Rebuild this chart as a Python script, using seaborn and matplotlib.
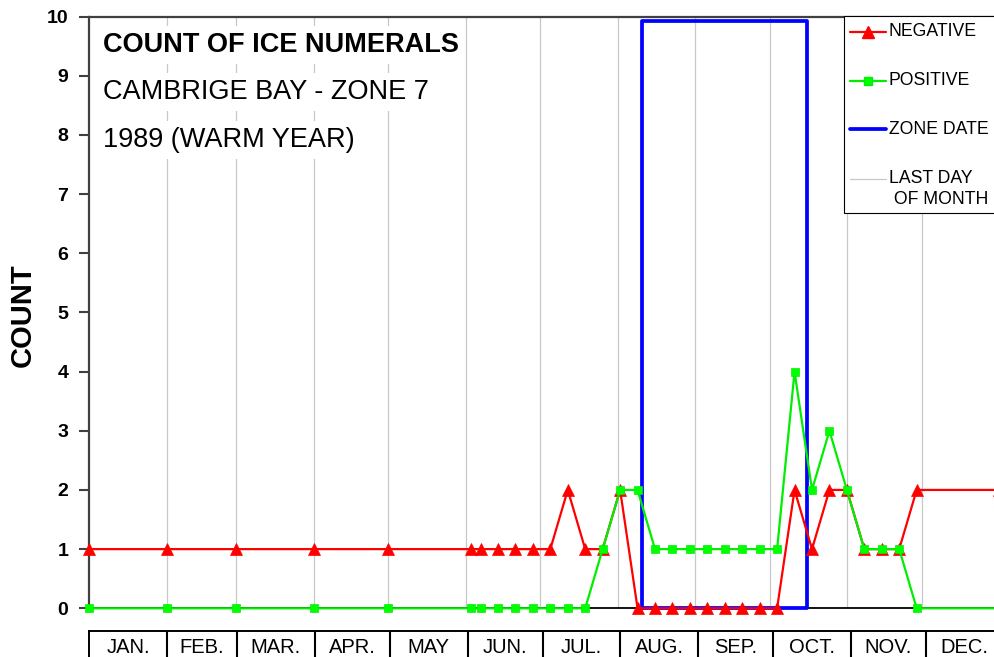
import matplotlib
matplotlib.use("Agg")
import matplotlib.pyplot as plt
import matplotlib.transforms as mtransforms
from matplotlib.lines import Line2D
from matplotlib.patches import Rectangle
import pandas as pd
import seaborn as sns

# Ice chart dates as day of year (0 = 1 Jan 1989)
chart_days = [0, 31, 59, 90, 120, 153,
              157, 164, 171, 178, 185, 192, 199, 206, 213, 220, 227, 234, 241,
              248, 255, 262, 269, 276, 283, 290, 297, 304, 311, 318, 325, 332,
              365]
negative_counts = [1, 1, 1, 1, 1, 1,
                   1, 1, 1, 1, 1, 2, 1, 1, 2, 0, 0, 0, 0,
                   0, 0, 0, 0, 0, 2, 1, 2, 2, 1, 1, 1, 2,
                   2]
positive_counts = [0, 0, 0, 0, 0, 0,
                   0, 0, 0, 0, 0, 0, 0, 1, 2, 2, 1, 1, 1,
                   1, 1, 1, 1, 1, 4, 2, 3, 2, 1, 1, 1, 0,
                   0]

# Zone date window drawn as a closed box
zone_days = [221.7, 221.7, 288.0, 288.0, 221.7]
zone_level = [0.0, 9.93, 9.93, 0.0, 0.0]

# Month boundaries (day of year) and labels
month_starts = [0, 31, 59, 90, 120, 151, 181, 212, 243, 273, 304, 334, 365]
month_labels = ["JAN.", "FEB.", "MAR.", "APR.", "MAY", "JUN.", "JUL.",
                "AUG.", "SEP.", "OCT.", "NOV.", "DEC."]
month_ends = month_starts[1:-1]

y_ticks = list(range(0, 11))

title_lines = ["COUNT OF ICE NUMERALS", "CAMBRIGE BAY - ZONE 7", "1989 (WARM YEAR)"]
legend_labels = ["NEGATIVE", "POSITIVE", "ZONE DATE", "LAST DAY", " OF MONTH"]

sns.set_style("white")
plt.rcParams["font.family"] = ["Liberation Sans", "DejaVu Sans"]
plt.rcParams["text.color"] = "black"
plt.rcParams["axes.labelcolor"] = "black"
plt.rcParams["ytick.color"] = "black"
plt.rcParams["xtick.color"] = "black"

W, H = 994, 657
fig = plt.figure(figsize=(W / 100, H / 100), dpi=100)
fig.patch.set_facecolor("white")


def fx(px):
    return px / W


def fy(py):
    return 1 - py / H


counts = pd.DataFrame({"day": chart_days,
                       "negative": negative_counts,
                       "positive": positive_counts})
zone = pd.DataFrame({"day": zone_days, "level": zone_level})

# Main plotting area (extends slightly past the right edge of the page)
ax = fig.add_axes([fx(89.3), fy(608.3), 909.6 / W, (608.3 - 16.5) / H])
ax.set_facecolor("white")

ax.vlines(month_ends, 0, 10, color="#c8c8c8", lw=0.9, zorder=1)

sns.lineplot(data=zone, x="day", y="level", sort=False, estimator=None,
             color="#0000ff", lw=2.7, ax=ax, zorder=3, clip_on=False)
sns.lineplot(data=counts, x="day", y="negative", estimator=None,
             color="#ff0000", lw=1.6, marker="^", markersize=9,
             markeredgecolor="#ff0000", markeredgewidth=0.5,
             ax=ax, zorder=4, clip_on=False)
sns.lineplot(data=counts, x="day", y="positive", estimator=None,
             color="#00ee00", lw=1.6, marker="s", markersize=6,
             markeredgecolor="#00ee00", markerfacecolor="#00ff00",
             markeredgewidth=0.5, ax=ax, zorder=5, clip_on=False)

ax.set_xlim(0, 365)
ax.set_ylim(0, 10)
ax.set_xticks([])
ax.set_yticks(y_ticks)
ax.set_yticklabels([str(v) for v in y_ticks], fontsize=14, fontweight="bold",
                   color="black")
ax.tick_params(axis="y", direction="out", length=7, width=1.5,
               color="#404040", labelcolor="black", pad=8, left=True)
ax.set_xlabel("")
ax.set_ylabel("")
ax.grid(False)
ax.spines["right"].set_visible(False)
for side in ("left", "top"):
    ax.spines[side].set_color("#404040")
    ax.spines[side].set_linewidth(1.6)
ax.spines["bottom"].set_color("black")
ax.spines["bottom"].set_linewidth(1.3)

fig.text(fx(23), fy(315), "COUNT", rotation=90, fontsize=21,
         fontweight="bold", ha="center", va="center", color="black")

# Title block with white backing
title_baselines = [51.7, 99.3, 147.0]
for i, (line, base) in enumerate(zip(title_lines, title_baselines)):
    fig.text(fx(103), fy(base), line, fontsize=19.5, color="black",
             fontweight="bold" if i == 0 else "normal",
             ha="left", va="baseline", zorder=6,
             bbox=dict(boxstyle="square,pad=0.22", facecolor="white",
                       edgecolor="none"))

# Legend box
fig.add_artist(Rectangle((fx(843.5), fy(213)), (1010 - 843.5) / W,
                         (213 - 16) / H, transform=fig.transFigure,
                         facecolor="white", edgecolor="black", lw=0.8,
                         zorder=10))
rows = [32, 80.5, 129, 179]
hx = [fx(850), fx(868), fx(886)]
fig.add_artist(Line2D(hx, [fy(rows[0])] * 3, transform=fig.transFigure,
                      color="#ff0000", lw=1.6, marker="^", markersize=9,
                      markevery=[1], zorder=11))
fig.add_artist(Line2D(hx, [fy(rows[1])] * 3, transform=fig.transFigure,
                      color="#00ee00", lw=1.6, marker="s", markersize=6,
                      markerfacecolor="#00ff00", markevery=[1], zorder=11))
fig.add_artist(Line2D(hx, [fy(rows[2])] * 3, transform=fig.transFigure,
                      color="#0000ff", lw=2.7, zorder=11))
fig.add_artist(Line2D(hx, [fy(rows[3])] * 3, transform=fig.transFigure,
                      color="#c8c8c8", lw=0.9, zorder=11))
text_rows = [32, 80.5, 129, 179, 200]
for lab, row in zip(legend_labels, text_rows):
    fig.text(fx(889), fy(row), lab, fontsize=12.7, ha="left", va="center",
             color="black", zorder=12)

# Month table below the plot
tab = fig.add_axes([fx(89.3), fy(662), 914.3 / W, (662 - 630.7) / H])
tab.set_xlim(0, 365)
tab.set_ylim(0, 1)
tab.set_xticks([])
tab.set_yticks([])
tab.set_facecolor("white")
for side in ("left", "top", "right", "bottom"):
    tab.spines[side].set_color("black")
    tab.spines[side].set_linewidth(1.4)
tab.vlines(month_ends, 0, 1, color="black", lw=1.5)
blend = mtransforms.blended_transform_factory(tab.transData, fig.transFigure)
for start, end, lab in zip(month_starts[:-1], month_starts[1:], month_labels):
    tab.text((start + end) / 2, fy(653), lab, transform=blend, fontsize=14.5,
             ha="center", va="baseline", color="black")

fig.savefig("out.png", dpi=100, facecolor="white")
